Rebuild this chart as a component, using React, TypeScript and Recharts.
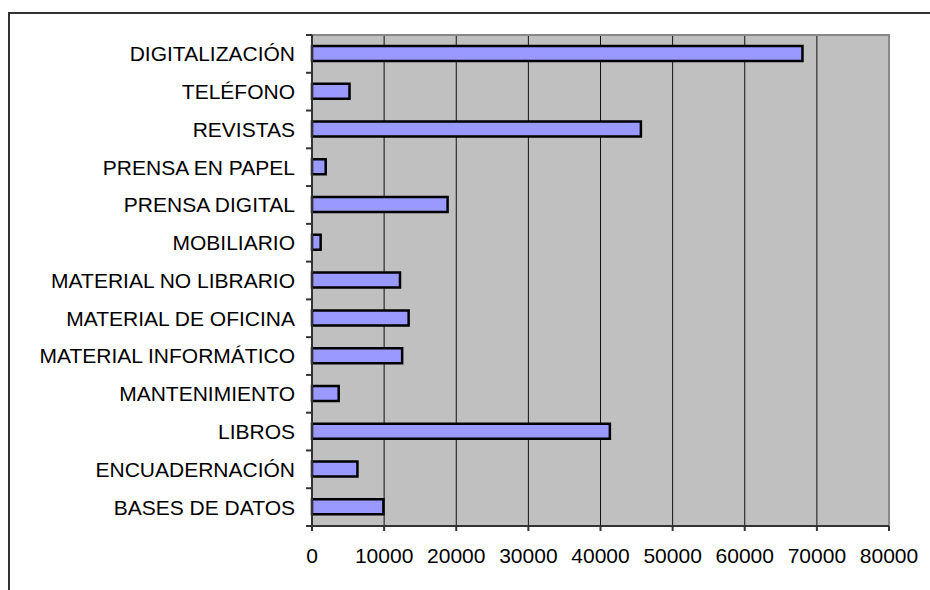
import React from "react";
import {
  Bar,
  BarChart,
  CartesianGrid,
  ReferenceArea,
  XAxis,
  YAxis,
} from "recharts";

// Spending per concept.
const CATEGORIES = [
  "DIGITALIZACIÓN",
  "TELÉFONO",
  "REVISTAS",
  "PRENSA EN PAPEL",
  "PRENSA DIGITAL",
  "MOBILIARIO",
  "MATERIAL NO LIBRARIO",
  "MATERIAL DE OFICINA",
  "MATERIAL INFORMÁTICO",
  "MANTENIMIENTO",
  "LIBROS",
  "ENCUADERNACIÓN",
  "BASES DE DATOS",
];

const AMOUNTS = [
  68000, 5200, 45600, 1900, 18800, 1200, 12200, 13400, 12500, 3700, 41300,
  6300, 9900,
];

const X_TICKS = [0, 10000, 20000, 30000, 40000, 50000, 60000, 70000, 80000];

const BAR_FILL = "#9999FF";
const PLOT_FILL = "#C0C0C0";
const AXIS_COLOUR = "#333";
const FONT = "Arial, 'Liberation Sans', sans-serif";
const TICK_SIZE = 6;
const TICK_MARGIN = 11;

// Category label at the band centre, tick mark on the band edge (Excel style).
function CategoryTick(props: any) {
  const { x, y, payload, index, visibleTicksCount } = props;
  const axisX = x + TICK_MARGIN + TICK_SIZE;
  const half = payload?.offset ?? 0;
  const edge = (yy: number) => (
    <line
      x1={axisX - TICK_SIZE}
      x2={axisX}
      y1={yy}
      y2={yy}
      stroke={AXIS_COLOUR}
      strokeWidth={2}
    />
  );
  return (
    <g>
      <text
        x={x}
        y={y}
        dy="0.355em"
        textAnchor="end"
        fill="#000"
        fontSize={21}
        fontFamily={FONT}
      >
        {payload.value}
      </text>
      {edge(y - half)}
      {index === visibleTicksCount - 1 && edge(y + half)}
    </g>
  );
}

export default function App() {
  const data = CATEGORIES.map((name, i) => ({ name, value: AMOUNTS[i] }));

  return (
    <div
      style={{
        position: "absolute",
        left: 0,
        top: 0,
        width: 930,
        height: 590,
        background: "#fff",
        fontFamily: FONT,
        overflow: "hidden",
      }}
    >
      <div
        style={{
          position: "absolute",
          left: 8,
          top: 12,
          width: 930,
          height: 600,
          borderTop: "2px solid #333",
          borderLeft: "2px solid #333",
        }}
      />
      <div style={{ position: "absolute", left: 0, top: 0 }}>
        <BarChart
          width={930}
          height={590}
          data={data}
          layout="vertical"
          margin={{ top: 35, right: 41, bottom: 34, left: 0 }}
        >
          <CartesianGrid
            horizontal={false}
            vertical
            fill={PLOT_FILL}
            fillOpacity={1}
            stroke="#111"
            strokeWidth={1}
          />
          <ReferenceArea
            x1={0}
            x2={80000}
            fill="none"
            stroke="#888"
            strokeWidth={2}
            ifOverflow="visible"
          />
          <XAxis
            type="number"
            domain={[0, 80000]}
            ticks={X_TICKS}
            interval={0}
            height={30}
            stroke={AXIS_COLOUR}
            strokeWidth={2}
            tickSize={5}
            tickMargin={17}
            tick={{ fill: "#000", fontSize: 21, fontFamily: FONT }}
          />
          <YAxis
            type="category"
            dataKey="name"
            width={312}
            interval={0}
            stroke={AXIS_COLOUR}
            strokeWidth={2}
            tickLine={false}
            tickSize={TICK_SIZE}
            tickMargin={TICK_MARGIN}
            tick={CategoryTick}
          />
          <Bar
            dataKey="value"
            barSize={15}
            fill={BAR_FILL}
            stroke="#000"
            strokeWidth={2.5}
            isAnimationActive={false}
          />
        </BarChart>
      </div>
    </div>
  );
}
